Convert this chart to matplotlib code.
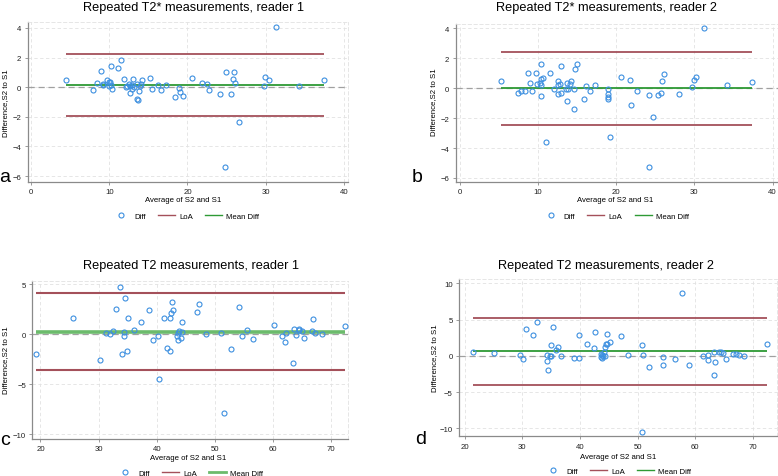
import matplotlib
matplotlib.use("Agg")
import matplotlib.pyplot as plt
from matplotlib.lines import Line2D
import numpy as np

plt.rcParams['font.family'] = ['Liberation Sans', 'DejaVu Sans']

# ---------------- data ----------------
a_x = [4.43, 7.88, 8.48, 9.0, 9.16, 9.24, 9.75, 9.92, 10.0, 10.1, 10.27, 10.27, 10.35, 11.16, 11.54,
       11.84, 12.1, 12.3, 12.47, 12.6, 12.7, 12.86, 13.0, 12.9, 13.2, 13.5, 13.6, 13.7, 13.84, 13.9,
       14.0, 14.2, 15.16, 15.46, 16.2, 16.6, 17.3, 18.4, 18.96, 19.0, 19.4, 20.6, 21.9, 22.5, 22.7,
       24.2, 24.8, 24.96, 25.5, 25.86, 26.0, 26.07, 26.6, 29.9, 29.8, 30.37, 31.3, 34.3, 37.4]
a_y = [0.47, -0.20, 0.27, 1.08, 0.20, 0.16, 0.49, 0.34, 0.07, 0.38, 1.46, 0.16, -0.11, 1.28, 1.82,
       0.58, 0.04, 0.07, 0.20, -0.40, 0.07, 0.18, 0.56, -0.13, 0.02, 0.20, -0.83, -0.85, -0.25, 0.09,
       0.22, 0.49, 0.63, -0.09, 0.13, -0.16, 0.18, -0.65, -0.04, -0.31, -0.61, 0.61, 0.27, 0.20, -0.18,
       -0.47, -5.42, 1.03, -0.47, 0.58, 1.01, 0.27, -2.36, 0.70, 0.07, 0.47, 4.07, 0.09, 0.52]
a_mean = 0.16
a_loa = [2.22, -1.96]

b_x = [5.32, 7.45, 7.88, 8.3, 8.73, 9.03, 9.24, 9.7, 9.88, 10.2, 10.4, 10.35, 10.4, 10.7, 10.35,
       11.03, 11.6, 12.05, 12.56, 12.6, 12.6, 12.86, 12.95, 12.95, 13.55, 13.7, 13.76, 13.9, 14.2, 14.1,
       14.6, 14.65, 14.8, 15.04, 15.9, 16.2, 16.66, 17.25, 18.9, 19.0, 19.0, 18.9, 19.17, 20.66, 21.8,
       21.9, 22.7, 24.15, 24.2, 24.75, 25.4, 25.7, 25.8, 26.15, 28.0, 29.73, 30.0, 30.25, 31.27, 34.1, 37.3]
b_y = [0.50, -0.34, -0.19, -0.19, 1.03, 0.33, -0.19, 1.03, 0.28, 0.37, 1.62, 0.21, -0.54, 0.66, 0.59,
       -3.57, 0.99, -0.05, 0.48, 0.19, -0.41, 0.28, 1.48, -0.32, -0.05, -0.85, 0.35, -0.07, 0.48, 0.26,
       -0.05, -1.41, 1.26, 1.64, -0.72, 0.17, -0.16, 0.19, -0.05, -0.41, -0.59, -0.72, -3.29, 0.73, 0.55,
       -1.12, -0.21, -0.48, -5.24, -1.95, -0.48, -0.34, 0.48, 0.93, -0.37, 0.08, 0.57, 0.77, 4.04, 0.24, 0.44]
b_mean = -0.01
b_loa = [2.42, -2.46]

c_x = [19.31, 25.68, 30.3, 31.35, 32.0, 32.56, 33.07, 33.6, 34.05, 34.45, 34.4, 34.5, 34.9, 35.14, 36.17,
       37.26, 38.6, 39.4, 40.2, 40.47, 41.3, 41.8, 42.2, 42.3, 42.5, 42.64, 42.8, 43.5, 43.6, 43.7,
       43.8, 44.2, 44.3, 44.4, 47.0, 47.2, 48.5, 51.1, 51.65, 52.8, 54.2, 54.6, 55.56, 56.5, 60.1,
       61.5, 62.15, 62.26, 63.5, 63.64, 64.0, 64.4, 64.55, 64.96, 65.4, 66.7, 66.95, 67.25, 68.5, 72.3]
c_y = [-1.99, 1.59, -2.56, 0.12, 0.02, 0.32, 2.49, 4.70, -1.95, 0.19, -0.21, 3.60, -1.72, 1.59, 0.46,
       1.26, 2.43, -0.58, -0.21, -4.45, 1.63, -1.35, 1.66, -1.65, 2.16, 3.20, 2.46, -0.18, 0.16, -0.58,
       0.32, -0.38, 1.19, 0.19, 2.26, 3.06, 0.06, 0.16, -7.90, -1.48, 2.69, -0.14, 0.46, -0.44, 0.92,
       -0.18, -0.81, 0.16, -2.91, 0.49, -0.04, 0.49, 0.42, 0.36, -0.41, 0.32, 1.49, 0.16, -0.01, 0.79]
c_mean = 0.26
c_loa = [4.10, -3.59]

d_x = [21.42, 25.06, 29.66, 30.1, 30.7, 31.9, 32.56, 34.26, 34.3, 34.4, 34.9, 34.94, 35.0, 35.4, 35.85,
       36.2, 36.8, 39.0, 39.8, 39.8, 41.2, 42.5, 42.56, 43.6, 43.66, 43.8, 43.86, 44.0, 44.2, 44.3,
       44.3, 44.6, 44.66, 44.77, 45.3, 47.05, 48.35, 50.8, 51.0, 50.74, 52.0, 54.4, 54.5, 56.5, 57.67,
       58.86, 61.3, 62.16, 62.16, 63.3, 63.46, 63.35, 64.1, 64.4, 64.83, 65.34, 66.6, 67.1, 67.6, 68.4, 72.5]
d_y = [0.48, 0.39, 0.16, -0.44, 3.66, 2.87, 4.71, 0.07, -0.67, -1.91, -0.07, 1.45, -0.07, 3.93, 0.80,
       1.26, -0.07, -0.30, -0.25, 2.87, 1.68, 1.13, 3.24, 0.21, -0.16, -0.25, 0.11, 0.02, 0.57, 1.22,
       -0.07, 1.63, 2.97, 1.68, 1.86, 2.78, 0.16, 1.54, 0.11, -10.55, -1.49, -0.11, -1.26, -0.39, 8.60,
       -1.22, 0.02, 0.11, -0.57, 0.57, -0.90, -2.64, 0.48, 0.48, 0.39, -0.39, 0.30, 0.21, 0.07, -0.02, 1.59]
d_mean = 0.62
d_loa = [5.26, -3.98]

titles = ["Repeated T2* measurements, reader 1", "Repeated T2* measurements, reader 2",
          "Repeated T2 measurements, reader 1", "Repeated T2 measurements, reader 2"]
panel_letters = ["a", "b", "c", "d"]
legend_labels = ["Diff", "LoA", "Mean Diff"]
xlabel_text = "Average of S2 and S1"
ylabel_text = "Difference,S2 to S1"

# ---------------- style ----------------
W, H = 778, 477
MARK = '#3d8fe0'
LOA = '#a4505a'
GREEN = '#2e9a35'
GRID = '#e2e2e2'
SPINE = '#8a8a8a'
FS = 5.6

fig = plt.figure(figsize=(W / 100, H / 100), dpi=100)

def fx(px):
    return px / W

def fy(py):
    return 1 - py / H

panels = [
    dict(x=a_x, y=a_y, mean=a_mean, loa=a_loa, box=(27.7, 23.3, 348.3, 182.7),
         xlim=(-0.42, 40.55), ylim=(-6.385, 4.385), xt=[0, 10, 20, 30, 40], yt=[-6, -4, -2, 0, 2, 4],
         title=(193.5, 7.5), ylab=(5.5, 103), xlab=(183, 201), leg=(186, 217), let=(5.0, 181.5),
         mlw=1.3, llw=1.3, gcol=GREEN),
    dict(x=b_x, y=b_y, mean=b_mean, loa=b_loa, box=(455.7, 25.0, 778.0, 182.7),
         xlim=(-0.51, 40.68), ylim=(-6.25, 4.29), xt=[0, 10, 20, 30, 40], yt=[-6, -4, -2, 0, 2, 4],
         title=(606, 7.5), ylab=(433.5, 102), xlab=(615.5, 201), leg=(615.5, 217), let=(417, 181.5),
         mlw=1.3, llw=1.3, gcol=GREEN),
    dict(x=c_x, y=c_y, mean=c_mean, loa=c_loa, box=(32.3, 281.7, 348.0, 440.0),
         xlim=(18.6, 72.9), ylim=(-10.5, 5.36), xt=[20, 30, 40, 50, 60, 70], yt=[-10, -5, 0, 5],
         title=(191, 266), ylab=(5.5, 360), xlab=(188, 459), leg=(190, 474), let=(5.0, 445),
         mlw=2.6, llw=1.5, gcol='#6cbb6c'),
    dict(x=d_x, y=d_y, mean=d_mean, loa=d_loa, box=(459.0, 280.0, 777.0, 437.3),
         xlim=(19.03, 74.2), ylim=(-11.1, 10.59), xt=[20, 30, 40, 50, 60, 70], yt=[-10, -5, 0, 5, 10],
         title=(605.7, 266.5), ylab=(434.5, 358), xlab=(618.3, 457.3), leg=(618, 472.3), let=(420.5, 444.5),
         mlw=1.3, llw=1.3, gcol=GREEN),
]

for i, p in enumerate(panels):
    l, t, r, b = p['box']
    ax = fig.add_axes([fx(l), fy(b), (r - l) / W, (b - t) / H])
    ax.set_xlim(*p['xlim'])
    ax.set_ylim(*p['ylim'])
    ax.set_xticks(p['xt'])
    ax.set_yticks(p['yt'])
    ax.tick_params(labelsize=FS, length=2.5, width=0.6, color=SPINE, pad=2, labelcolor='#222222')
    ax.grid(True, color=GRID, linestyle=(0, (4, 3)), linewidth=0.6)
    ax.set_axisbelow(True)
    for s in ['top', 'right']:
        ax.spines[s].set_color(GRID)
        ax.spines[s].set_linestyle((0, (4, 3)))
        ax.spines[s].set_linewidth(0.6)
    for s in ['left', 'bottom']:
        ax.spines[s].set_color(SPINE)
        ax.spines[s].set_linewidth(0.9)

    xs = np.array(p['x'])
    ax.axhline(0, color='#a0a0a0', linestyle=(0, (5, 3)), linewidth=0.9, zorder=1)
    ax.hlines(p['loa'], xs.min(), xs.max(), color=LOA, linewidth=p['llw'], zorder=2)
    ax.hlines([p['mean']], xs.min(), xs.max(), color=p['gcol'], linewidth=p['mlw'], zorder=2)
    ax.plot(xs, p['y'], linestyle='none', marker='o', markersize=3.6, markerfacecolor='none',
            markeredgecolor=MARK, markeredgewidth=0.8, zorder=3)

    fig.text(fx(p['title'][0]), fy(p['title'][1]), titles[i], ha='center', va='center', fontsize=9.2)
    fig.text(fx(p['ylab'][0]), fy(p['ylab'][1]), ylabel_text, ha='center', va='center',
             rotation=90, fontsize=FS)
    fig.text(fx(p['xlab'][0]), fy(p['xlab'][1]), xlabel_text, ha='center', va='center', fontsize=FS)
    fig.text(fx(p['let'][0]), fy(p['let'][1]), panel_letters[i], ha='center', va='baseline', fontsize=14)

    handles = [Line2D([], [], linestyle='none', marker='o', markersize=3.6, markerfacecolor='none',
                      markeredgecolor=MARK, markeredgewidth=0.8),
               Line2D([], [], color=LOA, linewidth=1.0),
               Line2D([], [], color=GREEN if i != 2 else '#6cbb6c', linewidth=1.0 if i != 2 else 2.0)]
    fig.legend(handles, legend_labels, loc='center', ncol=3, frameon=False, fontsize=FS,
               bbox_to_anchor=(fx(p['leg'][0]), fy(p['leg'][1])), handlelength=2.2,
               handletextpad=0.5, columnspacing=1.6, borderpad=0, borderaxespad=0)

fig.savefig("out.png", dpi=100)
